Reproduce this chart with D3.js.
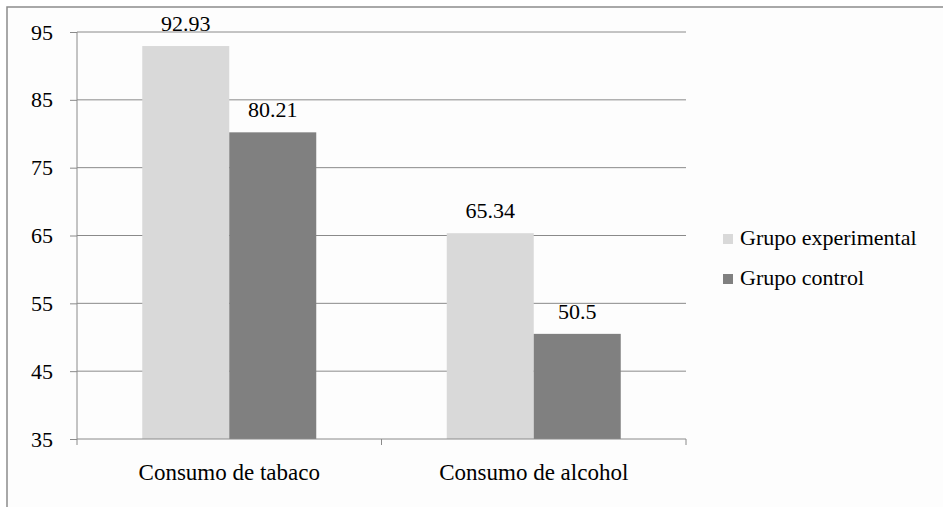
<!DOCTYPE html>
<html>
<head>
<meta charset="utf-8">
<script src="https://cdn.jsdelivr.net/npm/d3@7"></script>
<style>
  body { margin: 0; background: #fff; }
</style>
</head>
<body>
<svg id="chart" width="943" height="507" font-family="Liberation Serif"></svg>
<script>
const categories = ["Consumo de tabaco", "Consumo de alcohol"];
const seriesNames = ["Grupo experimental", "Grupo control"];
const experimental = [92.93, 65.34];
const control = [80.21, 50.5];
const valueLabels = [["92.93", "65.34"], ["80.21", "50.5"]];
const yTicks = [35, 45, 55, 65, 75, 85, 95];
const colors = ["#d9d9d9", "#808080"];

const svg = d3.select("#chart");
const W = 943, H = 507;
const plotL = 77, plotR = 686, plotT = 32, plotB = 439;
const fs = 22;
const serif = "'Liberation Serif', 'Times New Roman', Times, serif";

// outer chart border (cropped at right/bottom)
svg.append("rect")
  .attr("x", 7).attr("y", 7)
  .attr("width", W).attr("height", H)
  .attr("fill", "#fdfdfd").attr("stroke", "#8c8c8c").attr("stroke-width", 1.5);

const x = d3.scaleBand().domain(categories).range([plotL, plotR]);
const y = d3.scaleLinear().domain([35, 95]).range([plotB, plotT]);

// gridlines
svg.append("g").selectAll("line").data(yTicks.filter(d => d > 35)).join("line")
  .attr("x1", plotL).attr("x2", plotR)
  .attr("y1", d => y(d)).attr("y2", d => y(d))
  .attr("stroke", "#8a8a8a").attr("stroke-width", 1);

// y axis
const yAxis = svg.append("g").attr("transform", `translate(${plotL},0)`)
  .call(d3.axisLeft(y).tickValues(yTicks).tickSize(7).tickPadding(17).tickFormat(d3.format("d")));
yAxis.attr("font-family", serif).attr("font-size", fs);
yAxis.select(".domain").attr("stroke", "#8a8a8a").attr("d", `M0,${y(95)}V${y(35)}`);
yAxis.selectAll(".tick line").attr("stroke", "#8a8a8a");
yAxis.selectAll(".tick text").attr("fill", "#000").attr("font-family", serif).attr("font-size", fs);

// bars
const series = [experimental, control];
const barW = x.bandwidth() * 87 / 304.5;
series.forEach((vals, si) => {
  svg.append("g").selectAll("rect").data(vals).join("rect")
    .attr("x", (d, i) => x(categories[i]) + x.bandwidth() / 2 - barW + si * barW)
    .attr("y", d => y(d))
    .attr("width", barW)
    .attr("height", d => y(35) - y(d))
    .attr("fill", colors[si]);
  svg.append("g").selectAll("text").data(vals).join("text")
    .attr("x", (d, i) => x(categories[i]) + x.bandwidth() / 2 - barW / 2 + si * barW)
    .attr("y", d => y(d) - 15)
    .attr("text-anchor", "middle")
    .attr("font-family", serif)
    .attr("font-size", fs)
    .text((d, i) => valueLabels[si][i]);
});

// x axis
const xAxis = svg.append("g").attr("transform", `translate(0,${plotB})`);
xAxis.append("line").attr("x1", plotL).attr("x2", plotR)
  .attr("stroke", "#8a8a8a");
[plotL, plotL + x.bandwidth(), plotR].forEach(px => {
  xAxis.append("line").attr("x1", px).attr("x2", px).attr("y1", 0).attr("y2", 6)
    .attr("stroke", "#8a8a8a");
});
xAxis.selectAll("text.cat").data(categories).join("text")
  .attr("class", "cat")
  .attr("x", d => x(d) + x.bandwidth() / 2)
  .attr("y", 41)
  .attr("text-anchor", "middle")
  .attr("font-family", serif)
  .attr("font-size", fs + 1)
  .text(d => d);

// legend
const legend = svg.append("g").attr("transform", "translate(723,234)");
seriesNames.forEach((name, i) => {
  const g = legend.append("g").attr("transform", `translate(0,${i * 40})`);
  g.append("rect").attr("width", 10).attr("height", 10).attr("fill", colors[i]);
  g.append("text").attr("x", 17).attr("y", 11)
    .attr("font-family", serif).attr("font-size", fs).text(name);
});
</script>
</body>
</html>
